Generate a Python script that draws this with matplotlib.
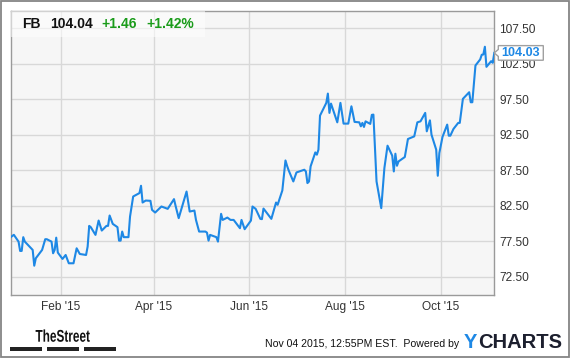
import numpy as np
import pandas as pd
import matplotlib
matplotlib.use("Agg")
import matplotlib.pyplot as plt
import matplotlib.dates as mdates
from matplotlib.patches import Rectangle, Polygon, PathPatch
from matplotlib.transforms import IdentityTransform, Affine2D
from matplotlib.textpath import TextPath
from matplotlib.font_manager import FontProperties

plt.rcParams['font.family'] = ['Liberation Sans', 'DejaVu Sans']

# FB closing prices
dates = [
    '2014-12-31', '2015-01-02', '2015-01-05', '2015-01-06', '2015-01-07', '2015-01-08', '2015-01-09',
    '2015-01-13', '2015-01-14', '2015-01-15', '2015-01-16', '2015-01-20', '2015-01-22', '2015-01-23',
    '2015-01-26', '2015-01-27', '2015-01-28', '2015-01-29', '2015-01-30',
    '2015-02-02', '2015-02-04', '2015-02-06', '2015-02-09', '2015-02-11', '2015-02-13', '2015-02-17',
    '2015-02-18', '2015-02-19', '2015-02-20', '2015-02-23', '2015-02-25', '2015-02-27',
    '2015-03-02', '2015-03-03', '2015-03-04', '2015-03-06', '2015-03-09', '2015-03-10', '2015-03-11',
    '2015-03-12', '2015-03-13', '2015-03-16', '2015-03-17', '2015-03-19', '2015-03-23', '2015-03-24',
    '2015-03-25', '2015-03-27', '2015-03-30', '2015-03-31',
    '2015-04-02', '2015-04-06', '2015-04-10', '2015-04-14', '2015-04-15', '2015-04-17', '2015-04-22',
    '2015-04-24', '2015-04-27', '2015-04-28', '2015-04-30',
    '2015-05-04', '2015-05-05', '2015-05-06', '2015-05-07', '2015-05-11', '2015-05-12', '2015-05-14',
    '2015-05-15', '2015-05-18', '2015-05-20', '2015-05-22', '2015-05-26', '2015-05-27', '2015-05-29',
    '2015-06-02', '2015-06-03', '2015-06-05', '2015-06-08', '2015-06-09', '2015-06-10', '2015-06-15',
    '2015-06-18', '2015-06-19', '2015-06-22', '2015-06-24', '2015-06-25', '2015-06-26', '2015-06-29',
    '2015-07-01', '2015-07-06', '2015-07-07', '2015-07-08', '2015-07-09', '2015-07-10', '2015-07-13',
    '2015-07-14', '2015-07-15', '2015-07-16', '2015-07-20', '2015-07-21', '2015-07-22', '2015-07-23',
    '2015-07-27', '2015-07-29', '2015-07-31',
    '2015-08-03', '2015-08-05', '2015-08-07', '2015-08-10', '2015-08-11', '2015-08-12', '2015-08-13',
    '2015-08-14', '2015-08-17', '2015-08-18', '2015-08-19', '2015-08-21', '2015-08-24', '2015-08-26',
    '2015-08-28', '2015-08-31',
    '2015-09-01', '2015-09-02', '2015-09-03', '2015-09-04', '2015-09-08', '2015-09-10', '2015-09-14',
    '2015-09-16', '2015-09-18', '2015-09-21', '2015-09-22', '2015-09-24', '2015-09-25', '2015-09-28',
    '2015-09-29', '2015-09-30',
    '2015-10-02', '2015-10-05', '2015-10-06', '2015-10-07', '2015-10-09', '2015-10-12', '2015-10-13',
    '2015-10-15', '2015-10-19', '2015-10-20', '2015-10-21', '2015-10-23', '2015-10-26', '2015-10-27',
    '2015-10-28', '2015-10-29', '2015-10-30',
    '2015-11-02', '2015-11-03', '2015-11-04',
]
prices = [
    78.07, 78.40, 77.44, 76.13, 76.13, 78.07, 77.44,
    76.50, 76.27, 74.05, 75.10, 76.27, 77.78, 77.78,
    77.44, 75.80, 76.27, 78.00, 75.90,
    75.00, 75.56, 74.39, 74.39, 76.50, 75.70, 75.56,
    76.74, 79.66, 79.48, 78.39, 80.41, 79.00,
    79.66, 79.66, 81.12, 79.94, 79.48, 77.58, 77.58,
    78.86, 78.07, 78.07, 80.97, 83.80, 84.28, 85.31,
    82.95, 83.23, 83.19, 81.92,
    81.54, 82.39, 82.06, 83.43, 82.49, 80.75, 84.50,
    81.68, 81.82, 80.50, 78.86,
    78.86, 78.71, 77.58, 78.39, 78.07, 77.44, 81.36,
    80.50, 80.83, 80.50, 80.50, 79.33, 80.50, 79.19,
    80.41, 82.39, 82.06, 80.65, 80.61, 82.10, 80.65,
    82.95, 82.63, 84.65, 88.88, 88.13, 87.50, 85.92,
    87.19, 87.57, 87.33, 85.69, 85.92, 88.04, 90.01,
    89.69, 90.40, 95.20, 96.99, 98.30, 95.58, 96.89,
    94.25, 96.99, 94.07,
    94.07, 96.51, 94.31, 94.25, 93.69, 94.17, 93.60,
    94.39, 94.03, 95.30, 95.34, 85.92, 82.16, 87.81,
    90.96, 89.55,
    87.33, 89.83, 88.13, 88.74, 89.36, 91.90, 92.27,
    94.25, 94.39, 95.58, 92.98, 94.53, 92.51, 90.40,
    86.72, 89.93,
    92.19, 93.93, 92.37, 92.37, 93.32, 94.17, 94.17,
    97.56, 98.49, 97.08, 97.08, 102.26, 103.11, 103.77,
    103.81, 104.90, 102.07,
    102.87, 102.64, 104.03,
]
y_ticks = [72.5, 77.5, 82.5, 87.5, 92.5, 97.5, 102.5, 107.5]
x_ticks = ['2015-02-01', '2015-04-01', '2015-06-01', '2015-08-01', '2015-10-01']
x_range = ['2014-12-31', '2015-11-04']

header = [('FB', '#111111'), ('104.04', '#111111'), ('+1.46', '#1a9b1a'), ('+1.42%', '#1a9b1a')]
header_x = [21.7, 50, 101, 146.7]

line_color = '#1e88e5'
W, H = 575, 358

d = pd.to_datetime(dates)

fig = plt.figure(figsize=(W / 100, H / 100), dpi=100)
ax = fig.add_axes([10.7 / W, 1 - 295 / H, (494.3 - 10.7) / W, (295 - 10.7) / H])
ax.set_facecolor('#f6f6f6')

ax.plot(d, prices, color=line_color, lw=1.5, zorder=4)

ax.set_xlim(pd.to_datetime(x_range[0]), pd.to_datetime(x_range[1]))
ax.set_ylim(69.92, 109.98)

ax.set_yticks(y_ticks)
ax.set_yticklabels([f'{v:.2f}' for v in y_ticks])
ax.yaxis.tick_right()
ax.set_xticks(pd.to_datetime(x_ticks))
ax.xaxis.set_major_formatter(mdates.DateFormatter("%b '%y"))
ax.tick_params(length=0, labelsize=8.6, labelcolor='#333333')
ax.tick_params(axis='y', pad=3.6)
ax.tick_params(axis='x', pad=4.5)
ax.grid(True, color='#d8d8d8', lw=1)
ax.set_axisbelow(True)
for s in ax.spines.values():
    s.set_color('#9a9a9a')
    s.set_linewidth(1)

# header box with ticker info
fig.patches.append(Rectangle((10.7 / W, 1 - 37 / H), (205 - 10.7) / W, (37 - 10.7) / H,
                             transform=fig.transFigure, facecolor='white', alpha=0.55,
                             edgecolor='none', zorder=5))
for (txt, col), hx in zip(header, header_x):
    fig.text(hx / W, 1 - 28.3 / H, txt, color=col, fontsize=10, fontweight='bold',
             va='baseline', ha='left', zorder=6)

# last-price tag on the right axis
px, py = ax.transData.transform((mdates.date2num(d[-1]), prices[-1]))
px = ax.transAxes.transform((1, 0))[0]
tag = Polygon([(px, py), (px + 4, py + 3.5), (px + 4, py + 7.3), (px + 49, py + 7.3),
               (px + 49, py - 7.3), (px + 4, py - 7.3), (px + 4, py - 3.5)],
              closed=True, transform=IdentityTransform(), facecolor='white',
              edgecolor='#a0a0a0', lw=1, zorder=7)
fig.patches.append(tag)
fig.text((px + 26.5) / W, py / H, f'{prices[-1]:.2f}', color=line_color, fontsize=9,
         fontweight='bold', ha='center', va='center', zorder=8)

# outer frame
fig.patches.append(Rectangle((0.5 / W, 1.5 / H), 568.5 / W, 355.5 / H, transform=fig.transFigure,
                             facecolor='none', edgecolor='#858585', lw=1.3, zorder=10))

# footer: condensed "TheStreet" logo drawn as a squeezed text path
tp = TextPath((0, 0), 'TheStreet', size=17,
              prop=FontProperties(family='Liberation Sans', weight='bold'))
ext = tp.get_extents()
sx = (89.8 - 35.6) / ext.width
logo_tf = Affine2D().scale(sx, 1).translate(35.6 - ext.x0 * sx, H - 341.7)
fig.patches.append(PathPatch(tp, transform=logo_tf, facecolor='#111111', edgecolor='none'))
for x0, x1 in [(9.9, 42.2), (46.9, 78.8), (83.6, 115.9)]:
    fig.patches.append(Rectangle((x0 / W, 1 - 350.7 / H), (x1 - x0) / W, 3.4 / H,
                                 transform=fig.transFigure, facecolor='#222222',
                                 edgecolor='none'))
fig.text(459.5 / W, 1 - 347.3 / H, 'Nov 04 2015, 12:55PM EST.  Powered by', fontsize=7.6,
         ha='right', va='baseline', color='#111111')
fig.text(463.9 / W, 1 - 348.3 / H, 'Y', fontsize=14.5, fontweight='bold',
         ha='left', va='baseline', color='#1e88e5')
fig.text(478.5 / W, 1 - 348.3 / H, 'CHARTS', fontsize=14.5, fontweight='bold',
         ha='left', va='baseline', color='#1c1f2e')

fig.savefig('out.png', dpi=100, facecolor='white')
